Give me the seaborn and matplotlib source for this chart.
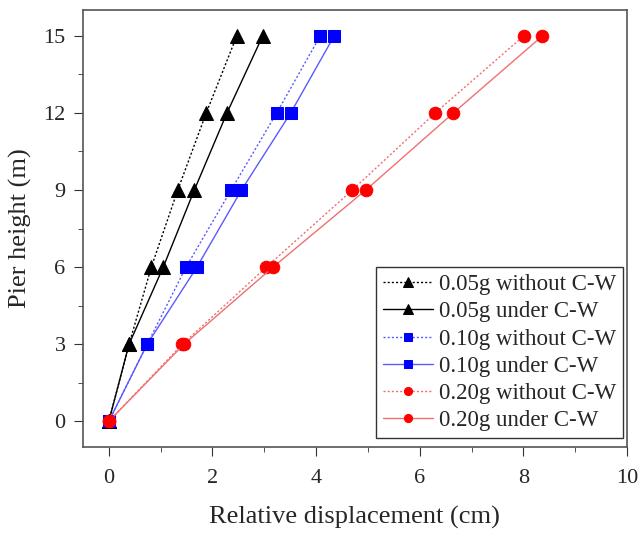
import matplotlib
matplotlib.use('Agg')
import matplotlib.pyplot as plt
import seaborn as sns
from matplotlib.ticker import MultipleLocator

# Pier heights (m)
heights = [0, 3, 6, 9, 12, 15]

# Relative displacement (cm)
disp_005_without = [0, 0.39, 0.82, 1.33, 1.88, 2.47]
disp_005_under = [0, 0.39, 1.05, 1.65, 2.28, 2.97]
disp_010_without = [0, 0.74, 1.49, 2.36, 3.24, 4.08]
disp_010_under = [0, 0.74, 1.70, 2.56, 3.51, 4.35]
disp_020_without = [0, 1.42, 3.04, 4.70, 6.30, 8.01]
disp_020_under = [0, 1.45, 3.17, 4.96, 6.65, 8.37]

labels = ['0.05g without C-W', '0.05g under C-W',
          '0.10g without C-W', '0.10g under C-W',
          '0.20g without C-W', '0.20g under C-W']

sns.set_style('ticks')
plt.rcParams['font.family'] = ['Liberation Serif', 'DejaVu Serif']

fig, ax = plt.subplots(figsize=(6.43, 5.35), dpi=100)

dotted = (0, (1.5, 1.5))
series = [
    (disp_005_without, 'black', 'black', dotted, '^', 10),
    (disp_005_under, 'black', 'black', '-', '^', 10),
    (disp_010_without, '#5a5aff', '#0000ff', dotted, 's', 8),
    (disp_010_under, '#5a5aff', '#0000ff', '-', 's', 8),
    (disp_020_without, '#f07070', '#ff0000', dotted, 'o', 9),
    (disp_020_under, '#f07070', '#ff0000', '-', 'o', 9),
]

for (vals, lc, mc, ls, mk, ms), lab in zip(series, labels):
    sns.lineplot(x=vals, y=heights, ax=ax, color=lc, linestyle=ls, linewidth=1.0,
                 marker=mk, markersize=ms, markerfacecolor=mc, markeredgecolor=mc,
                 label=lab, sort=False, estimator=None)

ax.set_xlim(-0.5, 10)
ax.set_ylim(-1, 16)
ax.xaxis.set_major_locator(MultipleLocator(2))
ax.xaxis.set_minor_locator(MultipleLocator(1))
ax.yaxis.set_major_locator(MultipleLocator(3))
ax.yaxis.set_minor_locator(MultipleLocator(1.5))
ax.tick_params(which='major', direction='out', length=6.5, labelsize=16,
               color='#333333')
ax.tick_params(which='minor', direction='out', length=3.5, color='#333333')
ax.tick_params(axis='x', which='major', pad=9)
ax.tick_params(axis='y', which='major', pad=6)
for sp in ax.spines.values():
    sp.set_color('#555555')
    sp.set_linewidth(1.2)

ax.set_xlabel('Relative displacement (cm)', fontsize=19, labelpad=13)
ax.set_ylabel('Pier height (m)', fontsize=19, labelpad=8)

leg = ax.legend(loc='lower right', bbox_to_anchor=(0.993, 0.02), fontsize=16.5,
                frameon=True, fancybox=False, edgecolor='#333333', framealpha=1,
                handlelength=2.2, borderpad=0.3, labelspacing=0.27,
                handletextpad=0.25, markerscale=0.65, borderaxespad=0)
leg.get_frame().set_linewidth(1.0)

plt.subplots_adjust(left=0.129, right=0.975, top=0.981, bottom=0.1645)
plt.savefig('out.png', dpi=100)
